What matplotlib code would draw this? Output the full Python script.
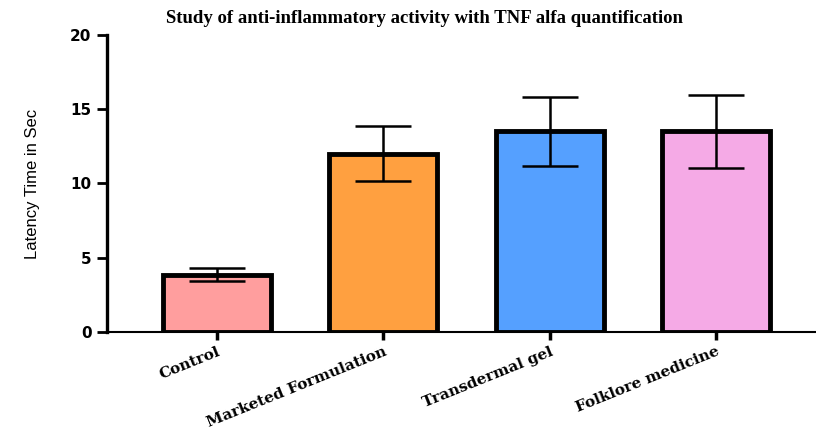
import matplotlib.pyplot as plt

# group means and SD for TNF alfa latency
groups = ["Control", "Marketed Formulation", "Transdermal gel", "Folklore medicine"]
latency = [3.85, 12.0, 13.5, 13.5]
sd = [0.43, 1.85, 2.3, 2.45]
bar_colors = ["#FF9E9E", "#FFA040", "#55A0FF", "#F5AAE6"]

fig = plt.figure(figsize=(8.16, 4.36), dpi=100)
ax = fig.add_axes([0.131, 0.2385, 0.869, 0.6815])

x = range(len(groups))
ax.bar(x, latency, width=0.65, color=bar_colors, edgecolor="black", linewidth=3.5, zorder=2)
ax.errorbar(x, latency, yerr=sd, fmt="none", ecolor="black", elinewidth=1.8,
            capsize=20, capthick=1.8, zorder=3)

ax.set_xlim(-0.66, 3.6)
ax.set_ylim(0, 20)
ax.set_yticks([0, 5, 10, 15, 20])
ax.set_xticks(list(x))
ax.set_xticklabels(groups, rotation=22, ha="right", rotation_mode="anchor",
                   family="DejaVu Serif", fontweight="bold", fontsize=11)
for lab in ax.get_yticklabels():
    lab.set_fontweight("bold")
    lab.set_fontsize(11)

for side in ["top", "right"]:
    ax.spines[side].set_visible(False)
ax.spines["left"].set_linewidth(2.4)
ax.spines["bottom"].set_linewidth(1.5)
ax.tick_params(axis="y", length=7, width=2, pad=4)
ax.tick_params(axis="x", length=6, width=2.5, pad=3)

ax.set_ylabel("Latency Time in Sec", family="Liberation Sans", fontsize=12, labelpad=22)
fig.text(0.52, 0.958, "Study of anti-inflammatory activity with TNF alfa quantification",
         ha="center", va="center", family="Liberation Serif", fontweight="bold", fontsize=13.5)

plt.savefig("out.png", dpi=100)
